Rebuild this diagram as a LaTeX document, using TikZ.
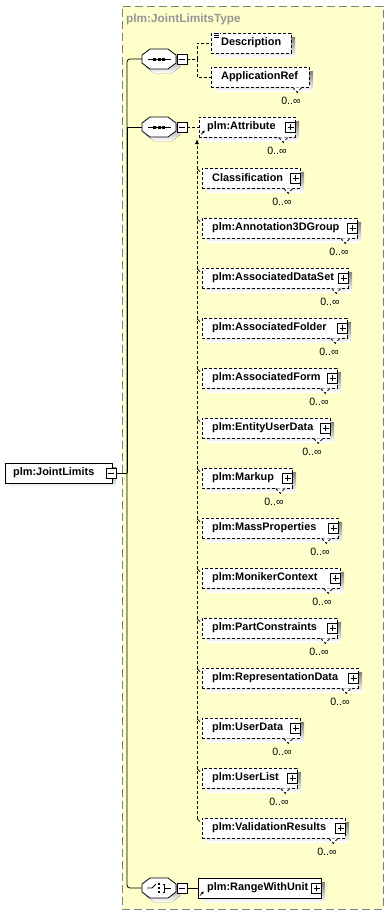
\documentclass[tikz,border=0pt]{standalone}
\usepackage{fontspec}
\setmainfont{Liberation Sans}
\usetikzlibrary{arrows.meta}
\definecolor{bgyellow}{RGB}{255,255,204}
\definecolor{shade}{RGB}{192,192,192}
\definecolor{framegray}{RGB}{128,128,128}
\definecolor{titlegray}{RGB}{150,150,150}
\tikzset{
  elbox/.style={draw=black, fill=white, line width=0.8pt, minimum height=20pt, inner sep=0pt, anchor=west},
  optline/.style={line width=0.8pt, dash pattern=on 3pt off 2pt},
  optbox/.style={elbox, optline},
  etext/.style={font=\fontsize{10.9}{13}\selectfont\bfseries, anchor=west, inner sep=0pt},
  ttext/.style={font=\fontsize{11.8}{14}\selectfont\bfseries, text=titlegray, anchor=west, inner sep=0pt},
  mult/.style={font=\fontsize{10.6}{12}\selectfont, anchor=east, inner sep=0pt},
  conn/.style={draw=black, line width=0.8pt},
  dconn/.style={conn, dash pattern=on 3pt off 2pt},
  pm/.style={draw=black, fill=white, line width=0.8pt, minimum width=10pt, minimum height=10pt, inner sep=0pt},
  octnode/.style={minimum width=34pt, minimum height=20pt, inner sep=0pt},
}
\newcommand\elembox[7]{%
  \fill[shade] (#2+4,#4-6) rectangle (#3+4,#4+14);
  \node[#6, minimum width={#3-#2}] (#1) at (#2,#4) {};
  \node[etext] (#1-t) at (#2+#5,#4) {#7};
}
\newcommand\plusof[1]{%
  \node[pm] (#1-p) at ([xshift=-5pt]#1.east) {};
  \draw[line width=0.8pt] ([xshift=-3pt]#1-p.center) -- ([xshift=3pt]#1-p.center);
  \draw[line width=0.8pt] ([yshift=-3pt]#1-p.center) -- ([yshift=3pt]#1-p.center);
}
\newcommand\minusnode[2]{%
  \node[pm] (#1) at (#2) {};
  \draw[line width=0.8pt] ([xshift=-3pt]#1.center) -- ([xshift=3pt]#1.center);
}
\newcommand\multof[2]{%
  \draw[#2, fill=white] ([xshift=-17pt]#1.south east) -- ([shift={(-12.5pt,-5pt)}]#1.south east) -- ([xshift=-8pt]#1.south east);
  \node[mult] (#1-n) at ([shift={(-9pt,-13pt)}]#1.south east) {0..∞};
}
\newcommand\subtick[1]{\draw[conn] ([shift={(-5pt,-1pt)}]#1.north west) -- ([shift={(-2pt,-4pt)}]#1.north west);}
\newcommand\refarrow[1]{\draw[line width=0.8pt, -{Latex[length=2.8pt,width=2.8pt]}] ([shift={(2pt,3pt)}]#1.south west) -- ([shift={(6pt,7pt)}]#1.south west);}
\newcommand\octa[3]{%
  \begin{scope}[shift={(#2,#3)}]
    \fill[shade] (-5,-6) -- (13,-6) -- (21,0) -- (21,8) -- (13,14) -- (-5,14) -- (-13,8) -- (-13,0) -- cycle;
    \draw[fill=white, line width=0.8pt] (-9,-10) -- (9,-10) -- (17,-4) -- (17,4) -- (9,10) -- (-9,10) -- (-17,4) -- (-17,-4) -- cycle;
    \node[octnode] (#1) at (0,0) {};
  \end{scope}
  \minusnode{#1-m}{#2+23,#3}
}
\begin{document}
\begin{tikzpicture}[x=1pt,y=-1pt]
\useasboundingbox (0,0) rectangle (390,916);
\fill[white] (0,0) rectangle (390,916);
% complex type frame
\node[draw=framegray, fill=bgyellow, line width=0.8pt, dash pattern=on 8pt off 4pt, minimum width=261pt, minimum height=903pt, anchor=north west, inner sep=0pt] (ctype) at (122,6) {};
\node[ttext] (ttl) at (126,19) {plm:JointLimitsType};

% root element
\elembox{root}{5}{112}{473}{8}{elbox}{plm:JointLimits}
\minusnode{root-m}{111,473}

% compositors
\octa{seqA}{159}{59}
\begin{scope}[shift={(159,59)}]
  \draw[line width=0.8pt] (-11,0) -- (12,0);
  \fill (-6,-1.5) rectangle (-3,1.5);
  \fill (-1.5,-1.5) rectangle (1.5,1.5);
  \fill (3,-1.5) rectangle (6,1.5);
\end{scope}
\octa{seqB}{159}{127}
\begin{scope}[shift={(159,127)}]
  \draw[line width=0.8pt] (-11,0) -- (12,0);
  \fill (-6,-1.5) rectangle (-3,1.5);
  \fill (-1.5,-1.5) rectangle (1.5,1.5);
  \fill (3,-1.5) rectangle (6,1.5);
\end{scope}
\octa{choice}{159}{888}
\begin{scope}[shift={(159,888)}]
  \draw[line width=0.8pt] (-12,0) -- (-7,0) -- (-3,-4);
  \fill (-1.2,-5) rectangle (1.2,-2.6);
  \fill (-1.2,-1.2) rectangle (1.2,1.2);
  \fill (-1.2,2.6) rectangle (1.2,5);
  \draw[line width=0.8pt] (3.5,-4) -- (5.5,-4) -- (5.5,4) -- (3.5,4);
  \draw[line width=0.8pt] (5.5,0) -- (12,0);
\end{scope}

% trunk connectors
\coordinate (trunk) at (127,473);
\draw[conn, rounded corners=3pt] (seqA.west) -| (trunk) |- (choice.west);
\draw[conn] (root-m.east) -- (trunk);
\draw[conn] (trunk) |- (seqB.west);

% first sequence
\elembox{desc}{211}{291}{43}{10}{optbox}{Description}
\fill[white] (212.5,31.5) rectangle (219.5,38.5);
\draw[line width=0.7pt] (213.5,33) -- (218.5,33);
\draw[line width=0.7pt] (213.5,35.3) -- (218.5,35.3);
\draw[line width=0.7pt] (213.5,37.6) -- (218.5,37.6);
\elembox{appr}{211}{309}{77}{10}{optbox}{ApplicationRef}
\multof{appr}{optline}
\coordinate (bA) at (197,59);
\draw[dconn] (seqA-m.east) -- (bA);
\draw[dconn] (bA) |- (desc.west);
\draw[dconn] (bA) |- (appr.west);

% second sequence
\elembox{attr}{199}{295}{127}{8}{optbox}{plm:Attribute}
\plusof{attr}\multof{attr}{optline}\refarrow{attr}
\draw[dconn] (seqB-m.east) -- (attr.west);

\elembox{cls}{202}{300}{178}{10}{optbox}{Classification}
\plusof{cls}\multof{cls}{optline}\subtick{cls}
\elembox{ann}{202}{357}{228}{10}{optbox}{plm:Annotation3DGroup}
\plusof{ann}\multof{ann}{optline}\subtick{ann}
\elembox{ads}{202}{348}{278}{10}{optbox}{plm:AssociatedDataSet}
\plusof{ads}\multof{ads}{optline}\subtick{ads}
\elembox{afo}{202}{347}{328}{10}{optbox}{plm:AssociatedFolder}
\plusof{afo}\multof{afo}{optline}\subtick{afo}
\elembox{afm}{202}{337}{378}{10}{optbox}{plm:AssociatedForm}
\plusof{afm}\multof{afm}{optline}\subtick{afm}
\elembox{eud}{202}{330}{428}{10}{optbox}{plm:EntityUserData}
\plusof{eud}\multof{eud}{optline}\subtick{eud}
\elembox{mkp}{202}{292}{478}{10}{optbox}{plm:Markup}
\plusof{mkp}\multof{mkp}{optline}\subtick{mkp}
\elembox{mpr}{202}{338}{528}{10}{optbox}{plm:MassProperties}
\plusof{mpr}\multof{mpr}{optline}\subtick{mpr}
\elembox{mon}{202}{340}{578}{10}{optbox}{plm:MonikerContext}
\plusof{mon}\multof{mon}{optline}\subtick{mon}
\elembox{pco}{202}{337}{628}{10}{optbox}{plm:PartConstraints}
\plusof{pco}\multof{pco}{optline}\subtick{pco}
\elembox{rep}{202}{358}{678}{10}{optbox}{plm:RepresentationData}
\plusof{rep}\multof{rep}{optline}\subtick{rep}
\elembox{usd}{202}{300}{728}{10}{optbox}{plm:UserData}
\plusof{usd}\multof{usd}{optline}\subtick{usd}
\elembox{usl}{202}{297}{778}{10}{optbox}{plm:UserList}
\plusof{usl}\multof{usl}{optline}\subtick{usl}
\elembox{val}{202}{345}{828}{10}{optbox}{plm:ValidationResults}
\plusof{val}\multof{val}{optline}\subtick{val}

\coordinate (subTop) at (197,139);
\coordinate (subBot) at ([shift={(-5pt,-1pt)}]val.north west);
\draw[dconn, -{Latex[length=5pt,width=4pt]}] (subBot) -- (subTop);

% choice
\elembox{rwu}{198}{321}{888}{9}{elbox}{plm:RangeWithUnit}
\plusof{rwu}\refarrow{rwu}
\draw[conn] (choice-m.east) -- (rwu.west);
\end{tikzpicture}
\end{document}
